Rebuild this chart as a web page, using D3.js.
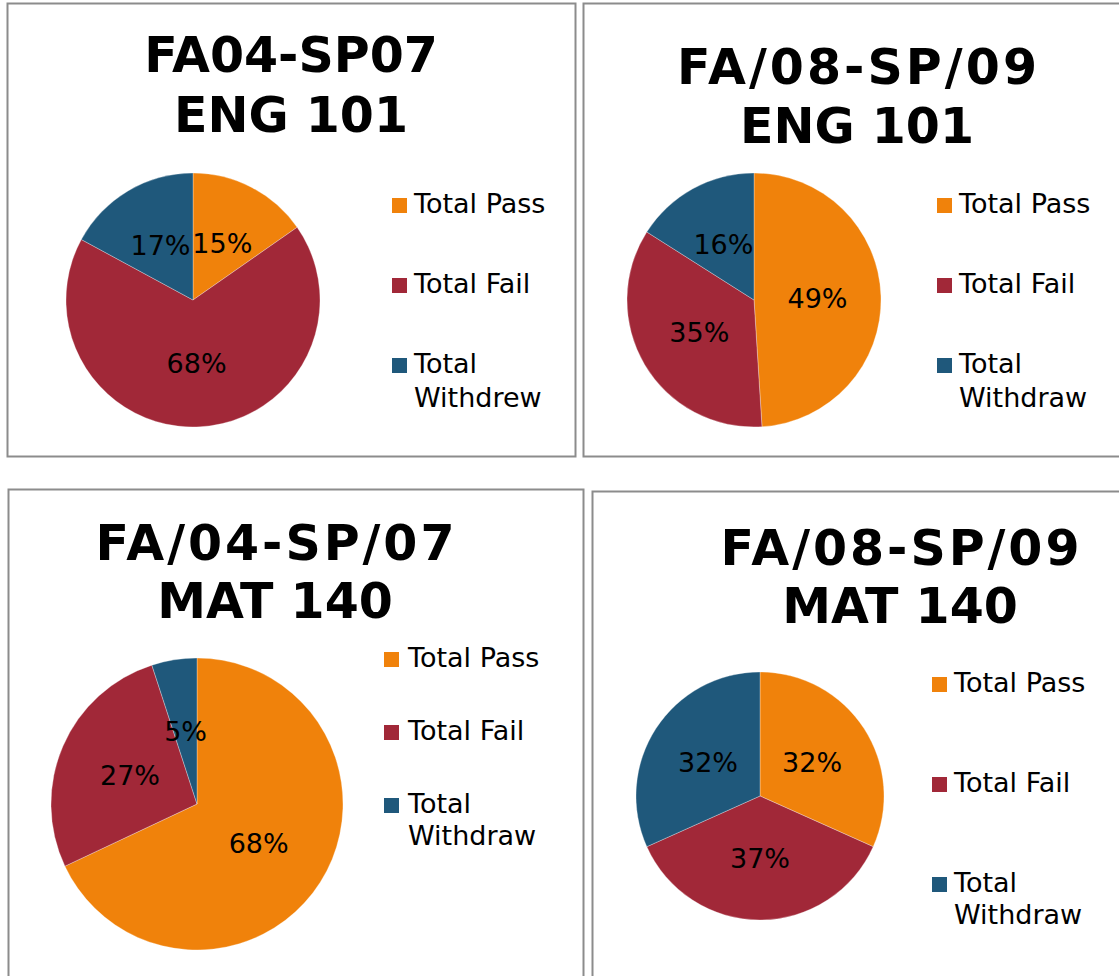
<!DOCTYPE html>
<meta charset="utf-8">
<style>

body {
  margin: 0;
  background: #fff;
}

.frame {
  fill: none;
  stroke: #8c8c8c;
  stroke-width: 2px;
}

.title {
  font-family: "DejaVu Sans", Verdana, sans-serif;
  font-weight: bold;
  font-size: 49px;
  fill: #000;
  text-anchor: middle;
}

.slice {
  stroke: #fff;
  stroke-width: 0.5px;
  stroke-opacity: 0.6;
}

.label, .legend text {
  font-family: "DejaVu Sans", Verdana, sans-serif;
  font-size: 27px;
  fill: #000;
}

.label {
  text-anchor: middle;
  dominant-baseline: central;
}

</style>
<svg width="1119" height="976"></svg>
<script src="https://d3js.org/d3.v7.min.js"></script>
<script>

// chart data (share of students, %)
var titles = [
  ["FA04-SP07", "ENG 101"],
  ["FA/08-SP/09", "ENG 101"],
  ["FA/04-SP/07", "MAT 140"],
  ["FA/08-SP/09", "MAT 140"]
];

var categories = ["Total Pass", "Total Fail", "Total Withdraw"];

var legendLabels = [
  [["Total Pass"], ["Total Fail"], ["Total", "Withdrew"]],
  [["Total Pass"], ["Total Fail"], ["Total", "Withdraw"]],
  [["Total Pass"], ["Total Fail"], ["Total", "Withdraw"]],
  [["Total Pass"], ["Total Fail"], ["Total", "Withdraw"]]
];

var eng101Before = [15.3, 67.6, 17.1];
var eng101After = [49.0, 35.0, 16.0];
var mat140Before = [68.0, 27.0, 5.0];
var mat140After = [31.7, 36.6, 31.7];

var series = [eng101Before, eng101After, mat140Before, mat140After];

var colors = ["#f0820b", "#a12838", "#1f587b"];

// layout of the four pasted charts
var panels = [
  {box: [7.5, 3.5, 568, 453], titleX: 291, titleY: [72, 132], titleW: null,
   cx: 193, cy: 300, r: 127, sqX: 392, textX: 414, legY: 213, legStep: 80, lineH: 34},
  {box: [583.5, 3.5, 560, 453], titleX: 857, titleY: [84, 143], titleW: 360,
   cx: 754, cy: 300, r: 127, sqX: 937, textX: 959, legY: 213, legStep: 80, lineH: 34},
  {box: [8.5, 489.5, 575, 520], titleX: 275, titleY: [560, 618], titleW: 359,
   cx: 197, cy: 804, r: 146, sqX: 384, textX: 408, legY: 667, legStep: 73, lineH: 32},
  {box: [592.5, 491.5, 560, 520], titleX: 900, titleY: [565, 623], titleW: 359,
   cx: 760, cy: 796, r: 124, sqX: 932, textX: 954, legY: 692, legStep: 100, lineH: 32}
];

var svg = d3.select("svg");

svg.append("rect")
    .attr("width", 1119)
    .attr("height", 976)
    .attr("fill", "#fff");

var color = d3.scaleOrdinal()
    .domain(categories)
    .range(colors);

var pie = d3.pie()
    .sort(null)
    .value(function(d) { return d.value; });

panels.forEach(function(p, i) {
  var g = svg.append("g");

  g.append("rect")
      .attr("class", "frame")
      .attr("x", p.box[0])
      .attr("y", p.box[1])
      .attr("width", p.box[2])
      .attr("height", p.box[3]);

  titles[i].forEach(function(line, j) {
    var t = g.append("text")
        .attr("class", "title")
        .attr("x", p.titleX)
        .attr("y", p.titleY[j])
        .text(line);
    // Verdana's wide slash: stretch line to the measured width
    if (p.titleW && line.indexOf("/") >= 0) {
      t.attr("textLength", p.titleW).attr("lengthAdjust", "spacing");
    }
  });

  var data = series[i].map(function(v, k) {
    return {key: categories[k], value: v};
  });

  var arc = d3.arc().innerRadius(0).outerRadius(p.r);

  var slices = g.append("g")
      .attr("transform", "translate(" + p.cx + "," + p.cy + ")")
    .selectAll("g")
    .data(pie(data))
    .enter().append("g");

  slices.append("path")
      .attr("class", "slice")
      .attr("d", arc)
      .attr("fill", function(d) { return color(d.data.key); });

  slices.append("text")
      .attr("class", "label")
      .attr("transform", function(d) { return "translate(" + arc.centroid(d) + ")"; })
      .text(function(d) { return Math.round(d.data.value) + "%"; });

  var legend = g.append("g")
      .attr("class", "legend")
    .selectAll("g")
    .data(legendLabels[i])
    .enter().append("g")
      .attr("transform", function(d, k) { return "translate(0," + (p.legY + k * p.legStep) + ")"; });

  legend.append("rect")
      .attr("x", p.sqX)
      .attr("y", -15)
      .attr("width", 15)
      .attr("height", 15)
      .attr("fill", function(d, k) { return colors[k]; });

  legend.append("text")
      .attr("x", p.textX)
    .selectAll("tspan")
    .data(function(d) { return d; })
    .enter().append("tspan")
      .attr("x", p.textX)
      .attr("y", function(d, j) { return j * p.lineH; })
      .text(function(d) { return d; });
});

</script>
